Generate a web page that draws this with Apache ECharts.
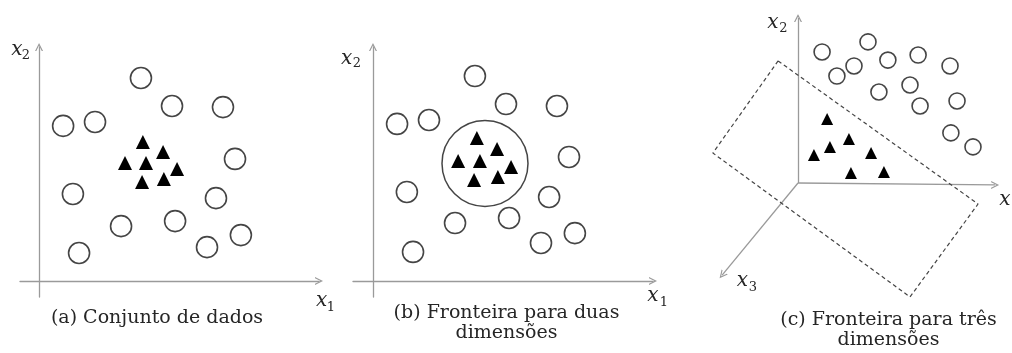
<!DOCTYPE html>
<html>
<head>
<meta charset="utf-8">
<script src="https://cdn.jsdelivr.net/npm/echarts@6/dist/echarts.min.js"></script>
<style>
  html, body { margin: 0; padding: 0; background: #fff; }
  #chart { width: 1012px; height: 353px; }
</style>
</head>
<body>
<div id="chart"></div>
<script>
// (a) conjunto de dados
const circlesA = [[3.64, 7.25], [4.75, 6.25], [6.57, 6.21], [0.86, 5.54], [2.0, 5.68], [7.0, 4.36], [1.21, 3.11],
    [6.32, 2.96], [2.93, 1.96], [4.86, 2.14], [6.0, 1.21], [7.21, 1.64], [1.43, 1.0]]
const trianglesA = [[3.71, 4.96], [4.43, 4.61], [3.07, 4.21], [3.82, 4.21], [4.93, 4.0], [3.68, 3.54], [4.46, 3.64]]

// (b) fronteira para duas dimensoes
const circlesB = [[3.64, 7.32], [4.75, 6.32], [6.57, 6.25], [0.86, 5.61], [2.0, 5.75], [7.0, 4.43], [1.21, 3.18],
    [6.29, 3.0], [2.93, 2.07], [4.86, 2.25], [6.0, 1.36], [7.21, 1.71], [1.43, 1.04]]
const trianglesB = [[3.71, 5.11], [4.43, 4.71], [3.04, 4.29], [3.82, 4.29], [4.93, 4.07], [3.61, 3.61], [4.46, 3.71]]
const boundaryB = [[4.0, 4.2]]

// (c) fronteira para tres dimensoes
const circlesC = [[0.86, 4.68], [2.5, 5.04], [2.0, 4.18], [1.39, 3.82], [3.21, 4.39], [4.29, 4.57], [5.43, 4.18],
    [4.0, 3.5], [2.89, 3.25], [4.36, 2.75], [5.68, 2.93], [5.46, 1.79], [6.25, 1.29]]
const trianglesC = [[1.04, 2.29], [1.82, 1.57], [1.14, 1.29], [0.57, 1.0], [2.61, 1.07], [1.89, 0.36], [3.07, 0.39]]
const planeC = [[-0.71, 4.36], [6.43, -0.75], [4.0, -4.07], [-3.04, 1.07], [-0.71, 4.36]]
const axesC = [
    [[0, 0], [0, 5.89]],
    [[0, 0], [7.04, -0.07]],
    [[0, 0], [-2.71, -3.29]]
]

const captions = [
    ['(a) Conjunto de dados'],
    ['(b) Fronteira para duas', 'dimensões'],
    ['(c) Fronteira para três', 'dimensões']
]

const AXIS = '#9a9a9a'
const INK = '#454545'
const arrowHead = 'path://M0,10 L5,0 L10,10 L8.4,10 L5,3.2 L1.6,10 Z'
const serif = '"DejaVu Serif", "Liberation Serif", serif'

let chart = echarts.init(document.getElementById('chart'), null, { renderer: 'canvas' })

function plainAxis(min, max, shown) {
    return {
        type: 'value', min: min, max: max,
        axisLine: shown ? {
            show: true, onZero: true,
            symbol: ['none', arrowHead], symbolSize: [8, 8],
            lineStyle: { color: AXIS, width: 1.3 }
        } : { show: false },
        axisTick: { show: false },
        axisLabel: { show: false },
        splitLine: { show: false }
    }
}

function circles(data, idx, size) {
    return {
        type: 'scatter', xAxisIndex: idx, yAxisIndex: idx, data: data,
        symbol: 'circle', symbolSize: size,
        itemStyle: { color: '#fff', borderColor: INK, borderWidth: 1.6, opacity: 1 },
        silent: true
    }
}

function triangles(data, idx, size) {
    return {
        type: 'scatter', xAxisIndex: idx, yAxisIndex: idx, data: data,
        symbol: 'triangle', symbolSize: size,
        itemStyle: { color: '#000', opacity: 1 },
        silent: true
    }
}

// textos (rotulos dos eixos e legendas)
function txt(s, x, y, size, italic) {
    return {
        type: 'text', silent: true, z: 100,
        style: {
            text: s, x: x, y: y, fill: '#262626',
            font: (italic ? 'italic ' : '') + size + 'px ' + serif,
            textAlign: 'center', textVerticalAlign: 'middle'
        }
    }
}

let graphics = [
    txt('x', 17, 50, 20, true), txt('2', 26, 56, 13),
    txt('x', 321.7, 301, 20, true), txt('1', 331, 307.5, 13),
    txt('x', 346.7, 59, 20, true), txt('2', 357, 63.5, 13),
    txt('x', 653, 296, 20, true), txt('1', 664, 302.4, 13),
    txt('x', 773, 23, 20, true), txt('2', 783.5, 29, 13),
    txt('x', 1005, 200, 20, true),
    txt('x', 742.5, 281, 20, true), txt('3', 753, 287.4, 13)
]
const capPos = [[157, [318]], [506.5, [313, 333]], [888.5, [320, 340]]]
captions.forEach(function (lines, i) {
    lines.forEach(function (line, j) {
        graphics.push(txt(line, capPos[i][0], capPos[i][1][j], 19, false))
    })
})

let option = {
    animation: false,
    backgroundColor: '#fff',
    grid: [
        { left: 20, top: 47, width: 299, height: 250 },
        { left: 353, top: 47, width: 300, height: 250 },
        { left: 700, top: 15, width: 308, height: 294 }
    ],
    xAxis: [
        Object.assign(plainAxis(-0.68, 10, true), { gridIndex: 0 }),
        Object.assign(plainAxis(-0.714, 10, true), { gridIndex: 1 }),
        Object.assign(plainAxis(-3.5, 7.5, false), { gridIndex: 2 })
    ],
    yAxis: [
        Object.assign(plainAxis(-0.571, 8.357, true), { gridIndex: 0 }),
        Object.assign(plainAxis(-0.571, 8.357, true), { gridIndex: 1 }),
        Object.assign(plainAxis(-4.5, 6, false), { gridIndex: 2 })
    ],
    series: [
        circles(circlesA, 0, 21),
        triangles(trianglesA, 0, 14),
        circles(circlesB, 1, 21),
        triangles(trianglesB, 1, 14),
        {
            type: 'scatter', xAxisIndex: 1, yAxisIndex: 1, data: boundaryB,
            symbol: 'circle', symbolSize: 86, z: 1,
            itemStyle: { color: 'rgba(0,0,0,0)', borderColor: INK, borderWidth: 1.5, opacity: 1 },
            silent: true
        },
        {
            type: 'lines', coordinateSystem: 'cartesian2d', xAxisIndex: 2, yAxisIndex: 2,
            symbol: ['none', arrowHead], symbolSize: 8,
            lineStyle: { color: AXIS, width: 1.3, opacity: 1, curveness: 0 },
            data: axesC.map(function (c) { return { coords: c } }),
            silent: true
        },
        {
            type: 'line', xAxisIndex: 2, yAxisIndex: 2, data: planeC,
            showSymbol: false, symbol: 'none',
            lineStyle: { color: '#444', width: 1.2, type: [4, 3] },
            silent: true
        },
        circles(circlesC, 2, 16),
        triangles(trianglesC, 2, 12)
    ],
    graphic: graphics
}

chart.setOption(option)
</script>
</body>
</html>
